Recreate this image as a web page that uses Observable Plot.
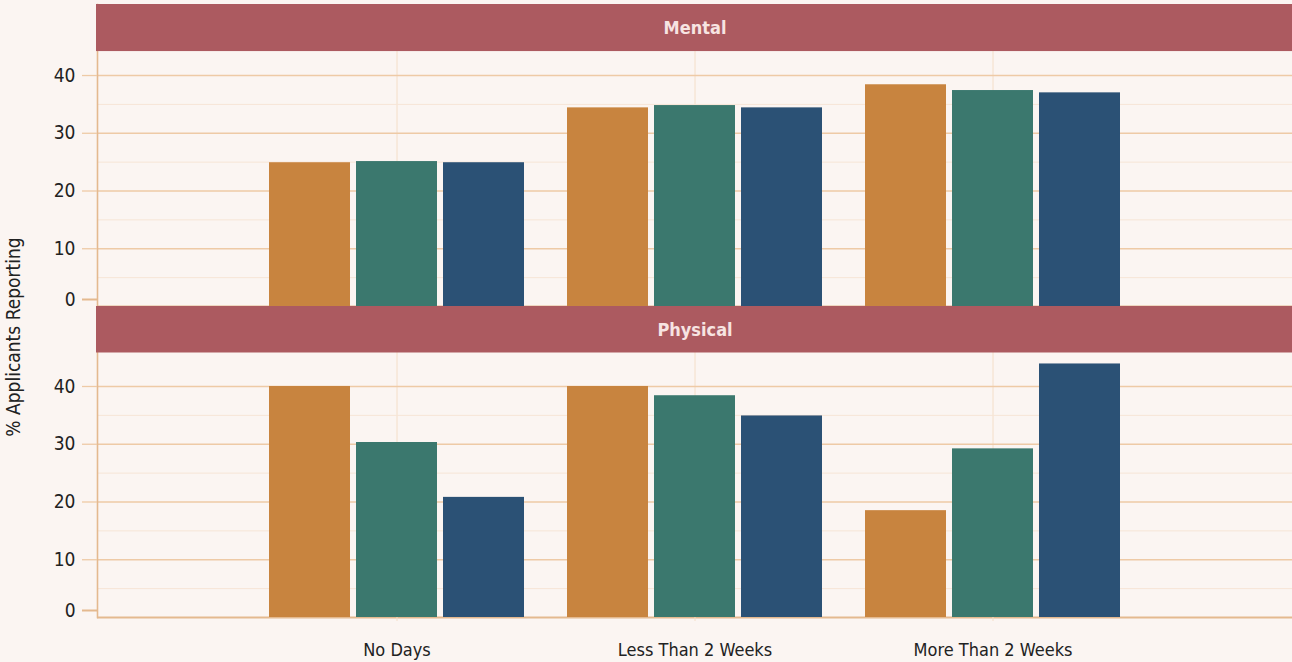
<!DOCTYPE html>
<html>
<head>
<meta charset="utf-8">
<script src="https://cdn.jsdelivr.net/npm/d3@7"></script>
<script src="https://cdn.jsdelivr.net/npm/@observablehq/plot@0.6"></script>
<style>
  html, body { margin: 0; padding: 0; background: #FBF5F2; }
  #chart { position: relative; width: 1292px; height: 662px; overflow: hidden; }
  #chart svg { display: block; }
  #chart svg.lower { margin-top: -8px; position: relative; }
  #ylab {
    position: absolute; left: 13px; top: 337px; z-index: 2;
    transform: translate(-50%, -50%) rotate(-90deg);
    font-family: "DejaVu Sans Condensed", "DejaVu Sans", sans-serif;
    font-stretch: condensed; font-size: 19px; color: #222; white-space: nowrap;
  }
</style>
</head>
<body>
<div id="chart"><div id="ylab">% Applicants Reporting</div></div>
<script>
// ---- data ----
const categories = ["No Days", "Less Than 2 Weeks", "More Than 2 Weeks"];
const seriesNames = ["Group 1", "Group 2", "Group 3"];
const facetNames = ["Mental", "Physical"];
const yMajorTicks = [10, 20, 30, 40];
const yMinorTicks = [5, 15, 25, 35];

const mentalSeries1 = [24.9, 34.4, 38.4];
const mentalSeries2 = [25.1, 34.8, 37.4];
const mentalSeries3 = [24.9, 34.4, 37.0];
const physicalSeries1 = [40.0, 40.0, 18.5];
const physicalSeries2 = [30.3, 38.4, 29.2];
const physicalSeries3 = [20.8, 34.9, 43.9];

// ---- styles ----
const seriesColors = ["#C8843F", "#3B786E", "#2B5175"];
const font = '"DejaVu Sans Condensed", "DejaVu Sans", sans-serif';
const majorGrid = "#EECAA6", minorGrid = "#F6E5D6", vGrid = "#F4DEC8", axisLine = "#E4B98F";

function rows(values) {
  return values.flatMap((vals, s) =>
    categories.map((c, i) => ({category: c, series: seriesNames[s], value: vals[i]})));
}

const barWidthInset = 87;
const offsets = [-87, 0, 87];

function panel({name, values, height, marginTop, marginBottom, yMax, stripBottom, showX, transparent}) {
  const data = rows(values);
  const marks = [
    Plot.gridX(categories, {stroke: vGrid, strokeOpacity: 1}),
    Plot.gridY(yMinorTicks, {stroke: minorGrid, strokeOpacity: 1}),
    Plot.gridY(yMajorTicks, {stroke: majorGrid, strokeOpacity: 1, strokeWidth: 1.3}),
    Plot.frame({anchor: "left", stroke: axisLine, strokeWidth: 1.6}),
    Plot.ruleY([0], {stroke: axisLine, strokeWidth: 2}),
    ...seriesNames.map((s, i) => Plot.barY(data.filter(d => d.series === s), {
      x: "category", y: "value", fill: seriesColors[i],
      insetLeft: barWidthInset, insetRight: barWidthInset, dx: offsets[i]
    })),
    Plot.barY([name], {y1: stripBottom, y2: yMax, fill: "#AC5A60", insetLeft: -1}),
    Plot.text([name], {y: (stripBottom + yMax) / 2, text: d => d, fill: "#F7E4E2",
      fontWeight: "bold", fontSize: 18, fontFamily: font}),
    Plot.axisY(yMajorTicks, {tickSize: 15, tickPadding: 7, stroke: majorGrid, strokeWidth: 1.3,
      fontSize: 19, fill: "#222", label: null}),
    Plot.axisY([0], {tickSize: 15, tickPadding: 7, stroke: axisLine, strokeWidth: 2,
      fontSize: 19, fill: "#222", label: null, dy: -7})
  ];
  if (showX) {
    marks.push(Plot.axisX({tickSize: 4, tickPadding: 22, stroke: vGrid, fontSize: 18, fill: "#222", label: null}));
  }
  return Plot.plot({
    width: 1292, height, marginLeft: 97, marginRight: 0, marginTop, marginBottom,
    style: {background: transparent ? "transparent" : "#FBF5F2", fontFamily: font, fontSize: "18px", color: "#222"},
    x: {type: "band", domain: categories, paddingInner: 0.143, paddingOuter: 0.5715, axis: showX ? undefined : null},
    y: {domain: [0, yMax], axis: null},
    marks
  });
}

const chart = document.getElementById("chart");
chart.appendChild(panel({
  name: facetNames[0], values: [mentalSeries1, mentalSeries2, mentalSeries3],
  height: 314, marginTop: 4, marginBottom: 8, yMax: 52.3, stripBottom: 44.15, showX: false
}));
const lower = panel({
  name: facetNames[1], values: [physicalSeries1, physicalSeries2, physicalSeries3],
  height: 364, marginTop: 0, marginBottom: 53, yMax: 53.85, stripBottom: 45.8, showX: true, transparent: true
});
lower.classList.add("lower");
chart.appendChild(lower);
</script>
</body>
</html>
